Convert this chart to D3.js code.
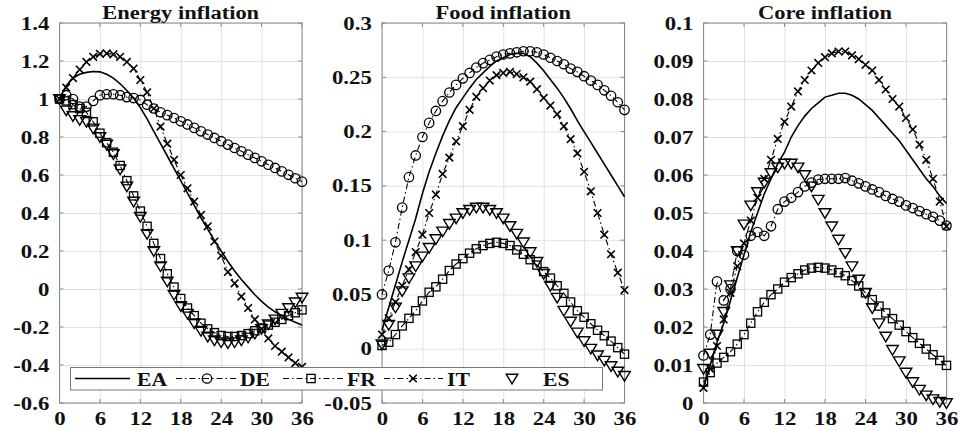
<!DOCTYPE html>
<html><head><meta charset="utf-8">
<script src="https://cdn.jsdelivr.net/npm/d3@7"></script>
<style>body{margin:0;background:#fff}svg{display:block}text{font-family:"Liberation Serif","Times New Roman",serif;font-weight:bold}</style>
</head><body>
<svg id="c" width="968" height="431"></svg>
<script>
const months = d3.range(0, 37);
const xTicks = [0, 6, 12, 18, 24, 30, 36];
const titles = ["Energy inflation", "Food inflation", "Core inflation"];
const seriesNames = ["EA", "DE", "FR", "IT", "ES"];

const energyEA = [1.0,1.07,1.11,1.13,1.14,1.145,1.143,1.13,1.11,1.08,1.045,1.005,0.955,0.895,0.83,0.765,0.7,0.635,0.57,0.505,0.44,0.375,0.315,0.255,0.2,0.145,0.095,0.05,0.01,-0.03,-0.065,-0.095,-0.12,-0.14,-0.16,-0.175,-0.19];
const energyDE = [1.0,1.02,1.0,0.96,0.96,0.99,1.02,1.025,1.025,1.02,1.01,1.005,0.995,0.97,0.95,0.93,0.915,0.9,0.883,0.866,0.848,0.83,0.813,0.795,0.778,0.76,0.742,0.725,0.707,0.69,0.672,0.654,0.637,0.619,0.601,0.583,0.565];
const energyFR = [1.0,0.99,0.97,0.95,0.93,0.88,0.82,0.77,0.72,0.65,0.57,0.49,0.41,0.33,0.24,0.16,0.08,0.01,-0.05,-0.1,-0.14,-0.18,-0.21,-0.23,-0.245,-0.25,-0.25,-0.245,-0.235,-0.22,-0.205,-0.19,-0.175,-0.16,-0.14,-0.125,-0.11];
const energyIT = [1.0,1.06,1.11,1.155,1.195,1.222,1.238,1.24,1.235,1.222,1.195,1.16,1.1,1.035,0.95,0.855,0.765,0.68,0.6,0.53,0.46,0.39,0.33,0.25,0.175,0.09,0.03,-0.04,-0.1,-0.16,-0.21,-0.26,-0.3,-0.33,-0.36,-0.39,-0.41];
const energyES = [1.0,0.94,0.91,0.89,0.88,0.845,0.8,0.76,0.71,0.63,0.54,0.46,0.38,0.29,0.2,0.12,0.04,-0.03,-0.09,-0.13,-0.18,-0.22,-0.25,-0.27,-0.28,-0.285,-0.28,-0.27,-0.255,-0.235,-0.21,-0.185,-0.16,-0.13,-0.1,-0.07,-0.045];

const foodEA = [0.017,0.038,0.059,0.08,0.1,0.12,0.143,0.163,0.18,0.196,0.21,0.222,0.231,0.24,0.248,0.254,0.26,0.265,0.268,0.271,0.272,0.272,0.269,0.263,0.256,0.248,0.24,0.231,0.221,0.21,0.2,0.19,0.18,0.17,0.16,0.15,0.14];
const foodDE = [0.05,0.072,0.098,0.13,0.158,0.178,0.195,0.208,0.219,0.228,0.236,0.243,0.249,0.254,0.259,0.263,0.266,0.269,0.271,0.272,0.273,0.274,0.274,0.273,0.271,0.268,0.265,0.262,0.258,0.255,0.251,0.247,0.243,0.238,0.233,0.227,0.22];
const foodFR = [0.003,0.006,0.013,0.021,0.028,0.035,0.044,0.052,0.057,0.064,0.072,0.078,0.083,0.088,0.092,0.095,0.097,0.098,0.097,0.095,0.091,0.087,0.082,0.077,0.071,0.065,0.058,0.051,0.043,0.035,0.029,0.023,0.017,0.012,0.007,0.001,-0.005];
const foodIT = [0.013,0.028,0.043,0.058,0.073,0.089,0.105,0.125,0.142,0.161,0.176,0.191,0.205,0.22,0.232,0.24,0.247,0.252,0.254,0.255,0.253,0.25,0.246,0.239,0.231,0.224,0.216,0.205,0.193,0.18,0.163,0.145,0.125,0.105,0.087,0.07,0.054];
const foodES = [0.004,0.022,0.038,0.053,0.065,0.076,0.085,0.093,0.101,0.108,0.115,0.12,0.125,0.128,0.13,0.13,0.128,0.125,0.12,0.113,0.106,0.098,0.089,0.08,0.069,0.058,0.047,0.035,0.025,0.015,0.007,0.0,-0.006,-0.011,-0.016,-0.021,-0.025];

const coreEA = [0.004,0.01,0.016,0.021,0.027,0.033,0.039,0.045,0.05,0.055,0.059,0.063,0.066,0.07,0.073,0.0755,0.0775,0.079,0.0805,0.081,0.0815,0.0815,0.081,0.08,0.0785,0.077,0.075,0.073,0.071,0.069,0.0665,0.064,0.0615,0.059,0.057,0.0545,0.0525];
const coreDE = [0.0125,0.018,0.032,0.027,0.03,0.04,0.039,0.044,0.045,0.044,0.0465,0.051,0.053,0.054,0.0555,0.057,0.058,0.0588,0.059,0.059,0.059,0.0592,0.0585,0.0578,0.057,0.0562,0.0555,0.0545,0.0537,0.053,0.052,0.0513,0.0505,0.0497,0.049,0.048,0.0467];
const coreFR = [0.0055,0.008,0.0105,0.012,0.0135,0.0155,0.018,0.021,0.024,0.0265,0.0285,0.03,0.0318,0.033,0.034,0.035,0.0355,0.0357,0.0355,0.035,0.0343,0.0335,0.0322,0.0308,0.029,0.0272,0.0255,0.0237,0.0222,0.0205,0.0188,0.0172,0.0157,0.0142,0.0127,0.0112,0.0099];
const coreIT = [0.004,0.009,0.015,0.022,0.029,0.036,0.042,0.048,0.054,0.059,0.064,0.0695,0.074,0.078,0.082,0.085,0.0875,0.0895,0.091,0.092,0.0925,0.0925,0.0915,0.0905,0.089,0.0875,0.085,0.0825,0.08,0.078,0.075,0.072,0.068,0.064,0.059,0.053,0.0465];
const coreES = [0.009,0.013,0.018,0.024,0.031,0.04,0.047,0.052,0.0555,0.058,0.0605,0.062,0.063,0.063,0.062,0.06,0.057,0.0535,0.05,0.0465,0.043,0.0395,0.036,0.0325,0.029,0.025,0.021,0.0175,0.014,0.011,0.008,0.0055,0.0035,0.002,0.001,0.0003,0.0];

const yTicksEnergy = [-0.6,-0.4,-0.2,0,0.2,0.4,0.6,0.8,1,1.2,1.4];
const yLabelsEnergy = ["-0.6","-0.4","-0.2","0","0.2","0.4","0.6","0.8","1","1.2","1.4"];
const yTicksFood = [-0.05,0,0.05,0.1,0.15,0.2,0.25,0.3];
const yLabelsFood = ["-0.05","0","0.05","0.1","0.15","0.2","0.25","0.3"];
const yTicksCore = [0,0.01,0.02,0.03,0.04,0.05,0.06,0.07,0.08,0.09,0.1];
const yLabelsCore = ["0","0.01","0.02","0.03","0.04","0.05","0.06","0.07","0.08","0.09","0.1"];

const panels = [
  {title: titles[0], series: [energyEA, energyDE, energyFR, energyIT, energyES], yDomain: [-0.6, 1.4], yTicks: yTicksEnergy, yLabels: yLabelsEnergy, left: 59.5, right: 302},
  {title: titles[1], series: [foodEA, foodDE, foodFR, foodIT, foodES], yDomain: [-0.05, 0.3], yTicks: yTicksFood, yLabels: yLabelsFood, left: 382, right: 624.5},
  {title: titles[2], series: [coreEA, coreDE, coreFR, coreIT, coreES], yDomain: [0, 0.1], yTicks: yTicksCore, yLabels: yLabelsCore, left: 703.5, right: 946.5}
];
const TOP = 23, BOTTOM = 403;
const SX = 1.2;
const styles = [
  {dash: null, marker: null, width: 1.6},
  {dash: "6,3,1.5,3", marker: "circle", width: 1.1},
  {dash: "6,3,1.5,3", marker: "square", width: 1.1},
  {dash: "6,3,1.5,3", marker: "cross", width: 1.1},
  {dash: null, marker: "tri", width: 1, noLine: true}
];

const svg = d3.select("#c");

function drawMarker(g, type, x, y) {
  if (type === "circle") {
    g.append("circle").attr("cx", x).attr("cy", y).attr("r", 4.7)
      .attr("fill", "none").attr("stroke", "#000").attr("stroke-width", 1.3);
  } else if (type === "square") {
    g.append("rect").attr("x", x - 4.1).attr("y", y - 4.1).attr("width", 8.2).attr("height", 8.2)
      .attr("fill", "none").attr("stroke", "#000").attr("stroke-width", 1.3);
  } else if (type === "cross") {
    g.append("path").attr("d", `M${x-3.8},${y-3.8}L${x+3.8},${y+3.8}M${x-3.8},${y+3.8}L${x+3.8},${y-3.8}`)
      .attr("stroke", "#000").attr("stroke-width", 1.6);
  } else if (type === "tri") {
    g.append("path").attr("d", `M${x-5.8},${y-4.3}L${x+5.8},${y-4.3}L${x},${y+5.3}Z`)
      .attr("fill", "none").attr("stroke", "#000").attr("stroke-width", 1.4);
  }
}

panels.forEach(p => {
  const x = d3.scaleLinear().domain([0, 36]).range([p.left, p.right]);
  const y = d3.scaleLinear().domain(p.yDomain).range([BOTTOM, TOP]);
  const g = svg.append("g");

  g.append("g").attr("transform", `translate(0,${BOTTOM})`)
    .call(d3.axisBottom(x).tickValues(xTicks).tickSize(-(BOTTOM - TOP)).tickFormat(""))
    .call(s => { s.select(".domain").remove(); s.selectAll("line").attr("stroke", "#e2e2e2"); });
  g.append("g").attr("transform", `translate(${p.left},0)`)
    .call(d3.axisLeft(y).tickValues(p.yTicks).tickSize(-(p.right - p.left)).tickFormat(""))
    .call(s => { s.select(".domain").remove(); s.selectAll("line").attr("stroke", "#e2e2e2"); });

  const tk = 4;
  const tg = g.append("g").attr("stroke", "#8a8a8a");
  xTicks.forEach(v => {
    tg.append("line").attr("x1", x(v)).attr("x2", x(v)).attr("y1", BOTTOM).attr("y2", BOTTOM - tk);
    tg.append("line").attr("x1", x(v)).attr("x2", x(v)).attr("y1", TOP).attr("y2", TOP + tk);
  });
  p.yTicks.forEach(v => {
    tg.append("line").attr("x1", p.left).attr("x2", p.left + tk).attr("y1", y(v)).attr("y2", y(v));
    tg.append("line").attr("x1", p.right).attr("x2", p.right - tk).attr("y1", y(v)).attr("y2", y(v));
  });

  g.append("rect").attr("x", p.left).attr("y", TOP).attr("width", p.right - p.left).attr("height", BOTTOM - TOP)
    .attr("fill", "none").attr("stroke", "#8a8a8a").attr("stroke-width", 1);

  g.append("g").attr("transform", `translate(${p.left},0)`)
    .call(d3.axisLeft(y).tickValues(p.yTicks).tickSize(0).tickPadding(8.5)
      .tickFormat((d, i) => p.yLabels[i]))
    .call(s => {
      s.select(".domain").remove();
      s.attr("font-family", null).attr("font-size", null);
      s.selectAll("text").style("font-size", "19px").attr("fill", "#111").attr("transform", `scale(${SX},1)`);
    });
  g.append("g").attr("transform", `translate(0,${BOTTOM})`)
    .call(d3.axisBottom(x).tickValues(xTicks).tickSize(0).tickPadding(8.5))
    .call(s => {
      s.select(".domain").remove();
      s.attr("font-family", null).attr("font-size", null);
      s.selectAll("text").style("font-size", "19px").attr("fill", "#111").attr("transform", `scale(${SX},1)`);
    });

  g.append("g").attr("transform", `translate(${(p.left + p.right) / 2},18.5) scale(1.25,1)`)
    .append("text").attr("text-anchor", "middle").style("font-size", "18px").attr("fill", "#111").text(p.title);

  p.series.forEach((vals, si) => {
    const st = styles[si];
    const sg = g.append("g");
    if (!st.noLine) {
      const line = d3.line().x((d, i) => x(months[i])).y(d => y(d));
      sg.append("path").attr("d", line(vals)).attr("fill", "none").attr("stroke", "#000")
        .attr("stroke-width", st.width).attr("stroke-dasharray", st.dash);
    }
    if (st.marker) vals.forEach((v, i) => drawMarker(sg, st.marker, x(months[i]), y(v)));
  });
});

const lg = svg.append("g");
lg.append("rect").attr("x", 70.5).attr("y", 367.5).attr("width", 532).attr("height", 22.5)
  .attr("fill", "#fff").attr("stroke", "#777").attr("stroke-width", 1);
const LY = 378.5;
const legendItems = [
  {lx0: 75, lx1: 130, mx: null, tx: 137},
  {lx0: 176, lx1: 237, mx: 207, tx: 240},
  {lx0: 283, lx1: 343, mx: 311, tx: 347},
  {lx0: 384, lx1: 443, mx: 413, tx: 447},
  {lx0: null, lx1: null, mx: 512, tx: 543}
];
legendItems.forEach((it, i) => {
  const st = styles[i];
  if (it.lx0 !== null) {
    lg.append("line").attr("x1", it.lx0).attr("x2", it.lx1).attr("y1", LY).attr("y2", LY)
      .attr("stroke", "#000").attr("stroke-width", st.width).attr("stroke-dasharray", st.dash);
  }
  if (st.marker) drawMarker(lg, st.marker, it.mx, LY);
  lg.append("g").attr("transform", `translate(${it.tx},385.5) scale(${SX},1)`)
    .append("text").style("font-size", "18px").attr("fill", "#111").text(seriesNames[i]);
});
</script>
</body></html>
